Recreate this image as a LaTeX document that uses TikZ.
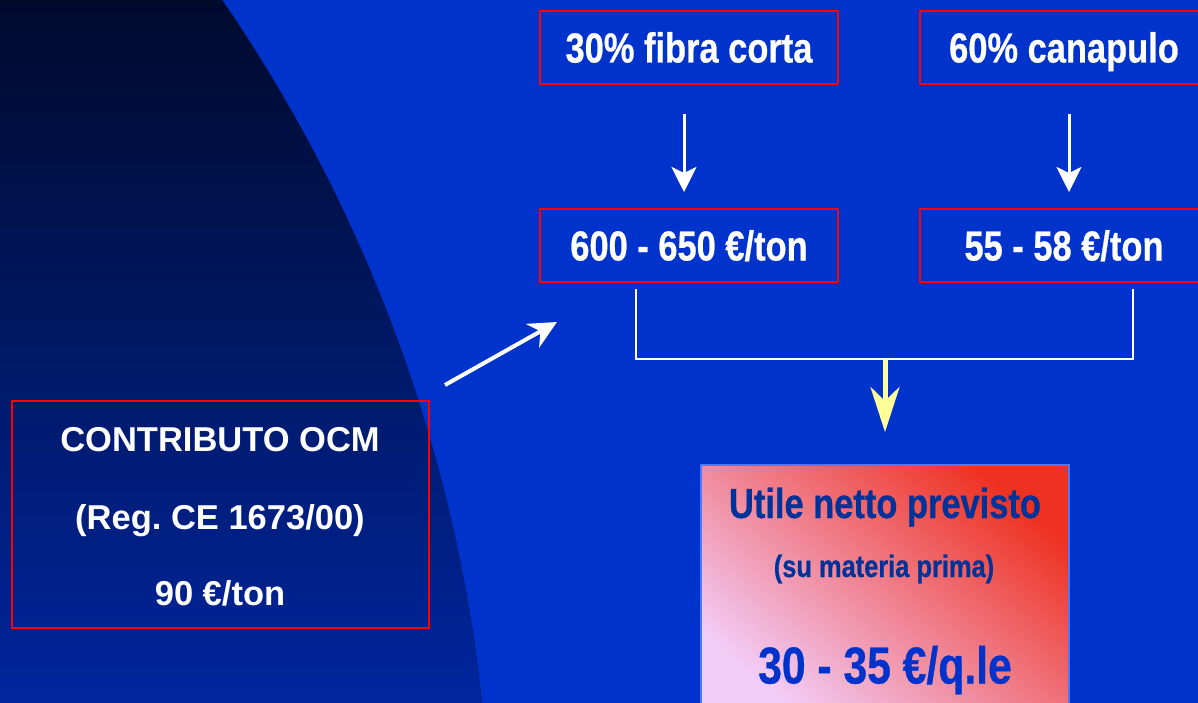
\documentclass[tikz,border=0pt]{standalone}
\usepackage{fontspec}
\setmainfont{Liberation Sans}
\newfontfamily\narrowfont{Liberation Sans}[FakeStretch=0.82,FakeBold=0.6]
\usetikzlibrary{arrows.meta}
\frenchspacing
\definecolor{bgblue}{RGB}{0,51,204}
\definecolor{darktop}{RGB}{0,10,45}
\definecolor{darkmid}{RGB}{0,24,95}
\definecolor{darkbot}{RGB}{0,38,158}
\definecolor{boxred}{RGB}{255,0,0}
\definecolor{ylw}{RGB}{255,255,153}
\definecolor{resred}{RGB}{238,50,34}
\definecolor{reslight}{RGB}{242,205,248}
\definecolor{resborder}{RGB}{80,120,255}
\definecolor{navytext}{RGB}{0,51,153}
\definecolor{bluetext}{RGB}{0,51,204}
\begin{document}
\begin{tikzpicture}[x=1pt,y=-1pt,
  redbox/.style={draw=boxred, line width=2pt, inner sep=0pt, text=white,
    font=\narrowfont\bfseries\fontsize{42}{48}\selectfont,
    text height=30pt, text depth=0pt, minimum height=73pt},
  ocmtext/.style={inner sep=0pt, text=white, font=\bfseries\fontsize{34.5}{40}\selectfont,
    text height=24.7pt, text depth=0pt},
  restext/.style={inner sep=0pt, font=\narrowfont\bfseries},
  downarrow/.style={white, line width=3pt, -{Stealth[length=25pt,width=25pt,inset=6pt]}},
  diagarrow/.style={white, line width=4pt, -{Stealth[length=28pt,width=27pt,inset=9pt]}},
  ylwarrow/.style={ylw, line width=5pt, -{Stealth[length=45pt,width=29pt,inset=14pt]}},
  bracket/.style={white, line width=2pt}]
\clip (0,0) rectangle (1198,703);
\fill[bgblue] (0,0) rectangle (1198,703);
% dark curved region (arc of a large circle)
\fill[top color=darktop, middle color=darkmid, bottom color=darkbot]
  (0,0) -- plot[domain=0:703, samples=80, variable=\t]
     ({-1035.6+100*sqrt(232.9264-((\t-864.7)/100)^2)}, {\t})
  -- (0,703) -- cycle;

% top boxes
\node[redbox, minimum width=298pt] (b1) at (689,47.5) {30\% fibra corta};
\node[redbox, minimum width=288pt] (b2) at (1064,47.5) {60\% canapulo};
\node[redbox, minimum width=298pt] (b3) at (689,245.5) {600 - 650 €/ton};
\node[redbox, minimum width=288pt] (b4) at (1064,245.5) {55 - 58 €/ton};

\draw[downarrow, shorten <=29pt, shorten >=16pt] ([xshift=-5pt]b1.south) -- ([xshift=-5pt]b3.north);
\draw[downarrow, shorten <=29pt, shorten >=16pt] ([xshift=5pt]b2.south) -- ([xshift=5pt]b4.north);

% bracket
\coordinate (bl) at (636,289);
\coordinate (blc) at (636,359);
\coordinate (brc) at (1133,359);
\coordinate (br) at (1133,289);
\coordinate (bm) at (885,359);
\draw[bracket] (bl) -- (blc) -- (brc) -- (br);

% result box
\node[draw=resborder, line width=2pt, top color=resred, bottom color=reslight, shading angle=-40,
  minimum width=368pt, minimum height=250pt, inner sep=0pt] (res) at (885,590) {};
\node[restext, text=navytext, font=\narrowfont\bfseries\fontsize{42}{48}\selectfont,
  text height=30pt, text depth=0pt] (r1) at (885,503) {Utile netto previsto};
\node[restext, text=navytext, font=\narrowfont\bfseries\fontsize{31}{36}\selectfont,
  text height=22pt, text depth=0pt] (r2) at (884,566) {(su materia prima)};
\node[restext, text=bluetext, font=\narrowfont\bfseries\fontsize{52}{60}\selectfont,
  text height=37pt, text depth=0pt] (r3) at (885,665) {30 - 35 €/q.le};

\draw[ylwarrow, shorten >=32pt] (bm) -- (bm |- res.north);

% OCM box
\node[draw=boxred, line width=2pt, minimum width=417pt, minimum height=227pt, inner sep=0pt] (ocm) at (220.5,514.5) {};
\node[ocmtext] (o1) at (220,439) {CONTRIBUTO OCM};
\node[ocmtext] (o2) at (220,517) {(Reg. CE 1673/00)};
\node[ocmtext] (o3) at (220,593) {90 €/ton};

\coordinate (ds) at (445,385);
\coordinate (de) at (557,322);
\draw[diagarrow] (ds) -- (de);
\end{tikzpicture}
\end{document}
